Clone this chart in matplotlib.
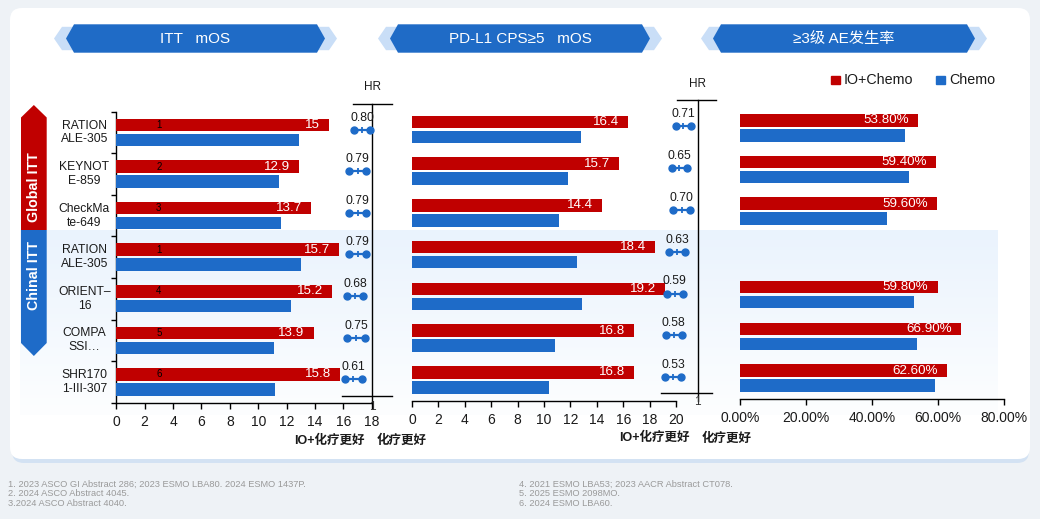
import numpy as np
import matplotlib
matplotlib.use("Agg")
import matplotlib.pyplot as plt
from matplotlib.patches import Polygon, FancyBboxPatch, Rectangle
from matplotlib.ticker import FuncFormatter

plt.rcParams['font.family'] = ['Liberation Sans', 'Noto Sans CJK SC', 'DejaVu Sans']

# ---------------- data ----------------
trials = ["RATION\nALE-305", "KEYNOT\nE-859", "CheckMa\nte-649", "RATION\nALE-305",
          "ORIENT\u2013\n16", "COMPA\nSSI\u2026", "SHR170\n1-III-307"]
refs = ["1", "2", "3", "1", "4", "5", "6"]

itt_io = [15, 12.9, 13.7, 15.7, 15.2, 13.9, 15.8]
itt_chemo = [12.9, 11.5, 11.6, 13.0, 12.3, 11.1, 11.2]
itt_hr = [0.80, 0.79, 0.79, 0.79, 0.68, 0.75, 0.61]
itt_ci_lo = [0.695, 0.612, 0.612, 0.612, 0.573, 0.583, 0.545]
itt_ci_hi = [0.967, 0.895, 0.895, 0.895, 0.850, 0.873, 0.823]

cps_io = [16.4, 15.7, 14.4, 18.4, 19.2, 16.8, 16.8]
cps_chemo = [12.8, 11.8, 11.1, 12.5, 12.9, 10.8, 10.4]
cps_hr = [0.71, 0.65, 0.70, 0.63, 0.59, 0.58, 0.53]
cps_ci_lo = [0.633, 0.567, 0.593, 0.527, 0.482, 0.467, 0.455]
cps_ci_hi = [0.888, 0.822, 0.872, 0.793, 0.755, 0.733, 0.722]

ae_io = [53.8, 59.4, 59.6, np.nan, 59.8, 66.9, 62.6]
ae_chemo = [50.0, 51.2, 44.5, np.nan, 52.7, 53.6, 59.0]

itt_ticks = list(range(0, 19, 2))
cps_ticks = list(range(0, 21, 2))
ae_ticks = [0, 20, 40, 60, 80]

headers = ["ITT   mOS", "PD-L1 CPS\u22655   mOS", "\u22653级 AE发生率"]
groups = ["Global ITT", "Chinal ITT"]
legend_labels = ["IO+Chemo", "Chemo"]
better_io = "IO+化疗更好"
better_chemo = "化疗更好"
footnotes_left = ["1. 2023 ASCO GI Abstract 286; 2023 ESMO LBA80. 2024 ESMO 1437P.",
                  "2. 2024 ASCO Abstract 4045.",
                  "3.2024 ASCO Abstract 4040."]
footnotes_right = ["4. 2021 ESMO LBA53; 2023 AACR Abstract CT078.",
                   "5. 2025 ESMO 2098MO.",
                   "6. 2024 ESMO LBA60."]

RED = '#C00000'
BLUE = '#1E6BC8'
TXT = '#1a1a1a'

W, H, DPI = 1040, 519, 100
fig = plt.figure(figsize=(W / DPI, H / DPI), dpi=DPI)


def px_axes(x0, y0, x1, y1):
    return fig.add_axes([x0 / W, 1 - y1 / H, (x1 - x0) / W, (y1 - y0) / H])


# ---------------- background layer ----------------
bg = px_axes(0, 0, W, H)
bg.set_zorder(-10)
bg.axis('off')
bg.add_patch(Rectangle((0, 0), W, H, color='#EEF2F6', zorder=0))
bg.add_patch(FancyBboxPatch((12, 12), 1017, 451, boxstyle='round,pad=0,rounding_size=12',
                            fc='#D3E2F3', ec='none', zorder=1))
bg.add_patch(FancyBboxPatch((10, 8), 1020, 451, boxstyle='round,pad=0,rounding_size=12',
                            fc='white', ec='none', zorder=2))
# China band gradient
n = 200
top_c = np.array([234, 243, 253]) / 255
bot_c = np.array([253, 254, 255]) / 255
t = np.linspace(0, 1, n)[:, None]
grad = (top_c[None, :] * (1 - t) + bot_c[None, :] * t)
grad = np.repeat(grad[:, None, :], 2, axis=1)
bg.imshow(grad, extent=(20, 998, 415, 230), origin='upper', aspect='auto', zorder=3)

# header banners
for (x0, x1), label in zip([(66, 325), (390, 650), (713, 975)], headers):
    yt, yb = 24.3, 52.7
    yc = (yt + yb) / 2
    light = Polygon([(x0 - 12, yc), (x0 - 4, yt + 2.5), (x1 + 4, yt + 2.5), (x1 + 12, yc),
                     (x1 + 4, yb - 2.5), (x0 - 4, yb - 2.5)], closed=True,
                    fc='#C9DEF7', ec='none', zorder=4)
    dark = Polygon([(x0, yc), (x0 + 8, yt), (x1 - 8, yt), (x1, yc), (x1 - 8, yb), (x0 + 8, yb)],
                   closed=True, fc='#1F6BC6', ec='none', zorder=5)
    bg.add_patch(light)
    bg.add_patch(dark)
    bg.text((x0 + x1) / 2, yc + 0.5, label, color='white', fontsize=11, ha='center',
            va='center', zorder=6)

# side group banners
xl, xr = 21, 46.7
xm = (xl + xr) / 2
bg.add_patch(Polygon([(xm, 105), (xr, 117.5), (xr, 230), (xl, 230), (xl, 117.5)],
                     closed=True, fc=RED, ec='none', zorder=5))
bg.add_patch(Polygon([(xl, 230), (xr, 230), (xr, 343), (xm, 356), (xl, 343)],
                     closed=True, fc=BLUE, ec='none', zorder=5))
bg.text(xm, 187, groups[0], rotation=90, color='white', fontsize=10.3, fontweight='bold',
        ha='center', va='center', zorder=6)
bg.text(xm, 276, groups[1], rotation=90, color='white', fontsize=10.3, fontweight='bold',
        ha='center', va='center', zorder=6)

# legend
bg.add_patch(Rectangle((831, 75.5), 8.5, 8.5, color=RED, zorder=6))
bg.text(844, 80, legend_labels[0], fontsize=10.3, va='center', color=TXT, zorder=6)
bg.add_patch(Rectangle((936, 75.5), 8.5, 8.5, color=BLUE, zorder=6))
bg.text(949, 80, legend_labels[1], fontsize=10.3, va='center', color=TXT, zorder=6)

# better labels
for cx1, cx2, yy in [(329.5, 401.5, 440.5), (654.5, 726.5, 438)]:
    bg.text(cx1, yy, better_io, fontsize=9, ha='center', va='center', color=TXT, zorder=6,
            family=['Liberation Sans', 'Noto Sans CJK SC'], fontweight='bold')
    bg.text(cx2, yy, better_chemo, fontsize=9, ha='center', va='center', color=TXT, zorder=6,
            family=['Noto Sans CJK SC'], fontweight='bold')

# footnotes
for k, line in enumerate(footnotes_left):
    bg.text(8, 484 + 9.7 * k, line, fontsize=6.7, color='#9a9a9a', va='center', zorder=6)
for k, line in enumerate(footnotes_right):
    bg.text(519, 484 + 9.7 * k, line, fontsize=6.7, color='#9a9a9a', va='center', zorder=6)

bg.set_xlim(0, W)
bg.set_ylim(H, 0)

idx = np.arange(len(trials))
OFF = 0.18
BH = 0.30


def style_axis(ax, xmax, ticks, fmt=None, left=False):
    ax.set_facecolor('none')
    ax.set_xlim(0, xmax)
    ax.set_ylim(6.5, -0.5)
    for s in ['top', 'right']:
        ax.spines[s].set_visible(False)
    ax.spines['left'].set_visible(left)
    ax.spines['bottom'].set_linewidth(1.0)
    ax.spines['left'].set_linewidth(1.0)
    ax.set_xticks(ticks)
    if fmt:
        ax.xaxis.set_major_formatter(FuncFormatter(fmt))
    ax.tick_params(axis='x', direction='out', length=4.5, width=1.0, pad=4, labelsize=10,
                   labelcolor=TXT)
    if left:
        ax.set_yticks(np.arange(-0.5, 7, 1))
        ax.set_yticklabels([])
        ax.tick_params(axis='y', direction='out', length=3.5, width=1.0)
    else:
        ax.set_yticks([])


def draw_bars(ax, io, ch, fmt):
    io = np.array(io, dtype=float)
    ch = np.array(ch, dtype=float)
    m = np.isfinite(io)
    ax.barh(idx[m] - OFF, io[m], height=BH, color=RED, zorder=3)
    ax.barh(idx[m] + OFF, ch[m], height=BH, color=BLUE, zorder=3)
    for i in idx[m]:
        ax.annotate(fmt(io[i]), xy=(io[i], i - OFF), xytext=(-6.5, 0),
                    textcoords='offset points', ha='right', va='center', color='white',
                    fontsize=9.6, zorder=4)


def draw_forest(ax, hr, lo, hi, xl, yl, top_xmin, bot_y, bot_xmax, hr_y, one_y):
    ax.set_facecolor('none')
    ax.axis('off')
    ax.set_xlim(*xl)
    ax.set_ylim(*yl)
    ax.axvline(1, color='black', lw=1.0, clip_on=False)
    ax.axhline(yl[1], xmin=top_xmin, xmax=1, color='black', lw=1.0, clip_on=False)
    ax.axhline(bot_y, xmin=0, xmax=bot_xmax, color='black', lw=1.0, clip_on=False)
    ax.text(1, hr_y, "HR", ha='center', va='center', fontsize=8.5, color=TXT, clip_on=False)
    ax.text(1, one_y, "1", ha='center', va='center', fontsize=8.5, color='#333333',
            clip_on=False)
    for i in idx:
        y = i - 0.07
        mid = (lo[i] + hi[i]) / 2
        ax.plot([lo[i], hi[i]], [y, y], color=BLUE, lw=1.6, marker='o', ms=5, mec=BLUE,
                clip_on=False)
        ax.plot([mid], [y], color=BLUE, marker='|', ms=5, mew=1.3, clip_on=False)
        ax.text(mid, y - 0.29, f"{hr[i]:.2f}", ha='center', va='center', fontsize=8.7,
                color=TXT, clip_on=False)


# ---------------- ITT mOS ----------------
axL = px_axes(116.3, 111.7, 371.7, 402.7)
style_axis(axL, 18, itt_ticks, left=True)
draw_bars(axL, itt_io, itt_chemo, lambda v: f"{v:g}")
for i in idx:
    axL.text(3, i - OFF, refs[i], fontsize=7, ha='center', va='center', color='black', zorder=5)
    axL.annotate(trials[i], xy=(0, i), xycoords=('axes fraction', 'data'),
                 xytext=(-22.9, 0), textcoords='offset points', ha='center', va='center',
                 fontsize=8.7, color=TXT, linespacing=1.2)

axFL = px_axes(342, 104.3, 392, 402.7)
draw_forest(axFL, itt_hr, itt_ci_lo, itt_ci_hi, (0.495, 1.328), (6.495, -0.678),
            0.22, 6.334, 1.0, -1.094, 6.60)

# ---------------- PD-L1 CPS>=5 mOS ----------------
axM = px_axes(412, 108.4, 676, 400.8)
style_axis(axM, 20, cps_ticks)
draw_bars(axM, cps_io, cps_chemo, lambda v: f"{v:g}")

axFM = px_axes(661, 100.3, 715.7, 400.8)
draw_forest(axFM, cps_hr, cps_ci_lo, cps_ci_hi, (0.388, 1.3), (6.495, -0.694),
            0.287, 6.301, 0.927, -1.084, 6.53)

# ---------------- AE >=3 ----------------
axR = px_axes(740, 106.9, 1004.3, 398.9)
style_axis(axR, 80, ae_ticks, fmt=lambda v, p: f"{v:.2f}%")
draw_bars(axR, ae_io, ae_chemo, lambda v: f"{v:.2f}%")

fig.savefig("out.png", dpi=DPI)
